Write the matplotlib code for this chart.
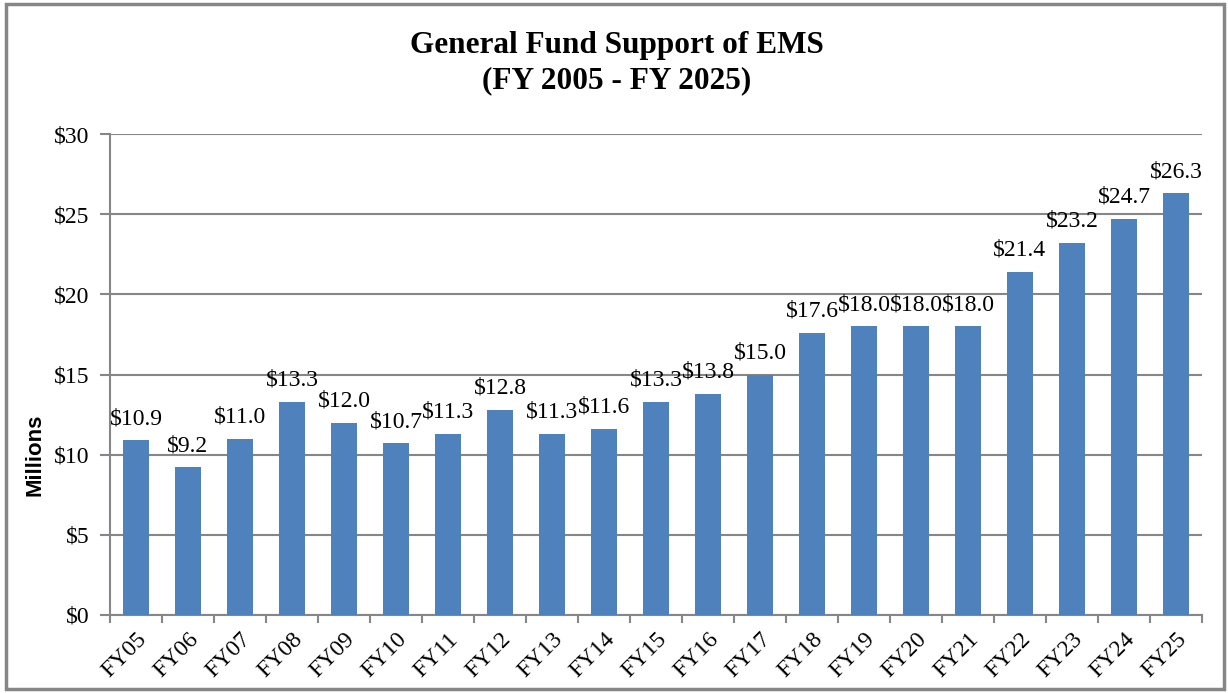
import matplotlib
matplotlib.use("Agg")
import matplotlib.pyplot as plt
import numpy as np
from matplotlib.patches import Rectangle
from matplotlib.ticker import FixedLocator

years = ["FY05", "FY06", "FY07", "FY08", "FY09", "FY10", "FY11", "FY12", "FY13", "FY14",
         "FY15", "FY16", "FY17", "FY18", "FY19", "FY20", "FY21", "FY22", "FY23", "FY24", "FY25"]
support = [10.9, 9.2, 11.0, 13.3, 12.0, 10.7, 11.3, 12.8, 11.3, 11.6,
           13.3, 13.8, 15.0, 17.6, 18.0, 18.0, 18.0, 21.4, 23.2, 24.7, 26.3]

serif = "Liberation Serif"
grey = "#868686"

fig = plt.figure(figsize=(12.28, 6.93), dpi=100)
ax = fig.add_axes([110 / 1228, 1 - 615 / 693, 1092 / 1228, 481 / 693])

x = np.arange(len(years))
ax.bar(x, support, width=0.5, color="#4F81BD", zorder=3)

for xi, v in zip(x, support):
    ax.annotate(f"${v:.1f}", (xi, v), xytext=(0, 8), textcoords="offset points",
                ha="center", va="bottom", fontsize=17, family=serif, zorder=4)

ax.set_xlim(-0.5, len(years) - 0.5)
ax.set_ylim(0, 30)
ax.set_yticks(range(0, 31, 5))
ax.set_yticklabels([f"${v}" for v in range(0, 31, 5)], fontsize=17, family=serif)
ax.yaxis.grid(True, color=grey, linewidth=1.5, zorder=0)

ax.set_xticks(x)
ax.set_xticklabels(years, rotation=45, ha="right", rotation_mode="anchor",
                   fontsize=17, family=serif)
ax.xaxis.set_minor_locator(FixedLocator(np.arange(-0.5, len(years), 1)))
ax.tick_params(axis="x", which="major", length=0, pad=10)
ax.tick_params(axis="x", which="minor", length=6, width=1.5, color=grey, direction="out")
ax.tick_params(axis="y", length=7, width=1.5, color=grey, pad=8)

for s in ["top", "right"]:
    ax.spines[s].set_visible(False)
for s in ["left", "bottom"]:
    ax.spines[s].set_color(grey)
    ax.spines[s].set_linewidth(1.5)

ax.set_ylabel("Millions", fontsize=16, fontweight="bold", family="Liberation Sans",
              va="center")
ax.yaxis.set_label_coords((35 - 110) / 1092, (615 - 455) / 481)

fig.text(617 / 1228, 1 - 46 / 693, "General Fund Support of EMS", ha="center", va="center",
         fontsize=22.5, fontweight="bold", family=serif)
fig.text(617 / 1228, 1 - 81 / 693, "(FY 2005 - FY 2025)", ha="center", va="center",
         fontsize=22.5, fontweight="bold", family=serif)

fig.patches.append(Rectangle((6 / 1228, 4 / 693), 1218 / 1228, 685 / 693,
                             transform=fig.transFigure, fill=False,
                             edgecolor=grey, linewidth=2.5))

fig.savefig("out.png", dpi=100)
